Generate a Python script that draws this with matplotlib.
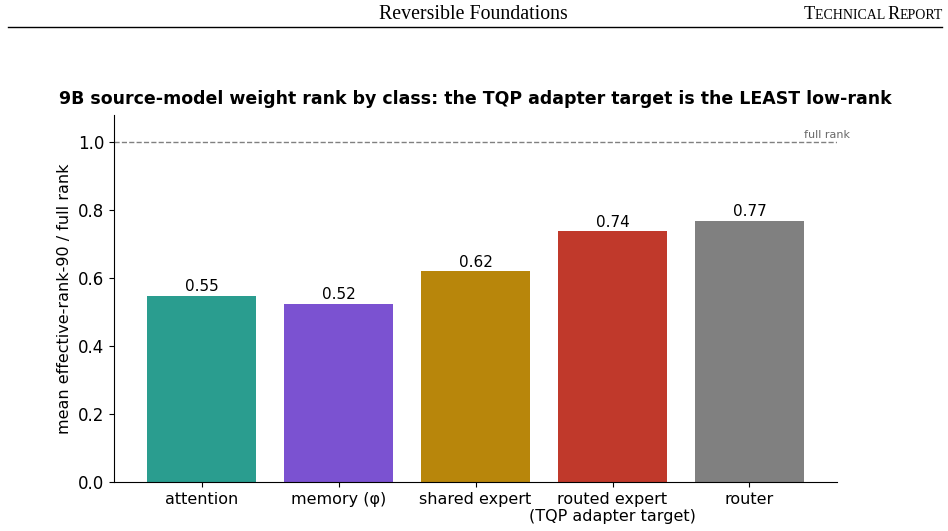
import matplotlib.pyplot as plt
from matplotlib.offsetbox import TextArea, HPacker, AnchoredOffsetbox

# Дані
categories = ['attention', 'memory (φ)', 'shared expert', 'routed expert\n(TQP adapter target)', 'router']
values = [0.547, 0.524, 0.62, 0.738, 0.768]
value_labels = ['0.55', '0.52', '0.62', '0.74', '0.77']
colors = ['#2a9d8f', '#7b52d1', '#b8860b', '#c0392b', '#808080']

fig = plt.figure(figsize=(9.48, 5.31), dpi=100)

# Шапка сторінки
fig.text(0.4995, 0.972, 'Reversible Foundations', ha='center', va='center',
         family='Liberation Serif', fontsize=14.3)
parts = [('T', 13.2), ('ECHNICAL ', 10), ('R', 13.2), ('EPORT', 10)]
boxes = [TextArea(s, textprops=dict(family='Liberation Serif', fontsize=fs)) for s, fs in parts]
pack = HPacker(children=boxes, align='baseline', pad=0, sep=0)
anchored = AnchoredOffsetbox(loc='center right', child=pack, frameon=False,
                             bbox_to_anchor=(0.995, 0.972), bbox_transform=fig.transFigure,
                             borderpad=0, pad=0)
fig.add_artist(anchored)
fig.add_artist(plt.Line2D([0.008, 0.994], [0.949, 0.949], color='black', lw=1.0,
                          transform=fig.transFigure))

ax = fig.add_axes([0.1203, 0.0923, 0.7627, 0.6911])
x = range(len(categories))
bars = ax.bar(x, values, width=0.8, color=colors)
for bar, lab in zip(bars, value_labels):
    ax.text(bar.get_x() + bar.get_width() / 2, bar.get_height() + 0.005, lab,
            ha='center', va='bottom', fontsize=11)

ax.axhline(1.0, color='gray', ls='--', lw=1.0)
ax.text(4.4, 1.005, 'full rank', color='dimgray', fontsize=8, ha='left', va='bottom')

ax.set_xticks(list(x))
ax.set_xticklabels(categories, fontsize=11.5)
ax.tick_params(axis='y', labelsize=12)
ax.set_xlim(-0.64, 4.64)
ax.set_ylim(0, 1.08)
ax.set_ylabel('mean effective-rank-90 / full rank', fontsize=11.5)
ax.set_title('9B source-model weight rank by class: the TQP adapter target is the LEAST low-rank',
             fontsize=12.5, fontweight='bold', pad=8)
ax.spines['top'].set_visible(False)
ax.spines['right'].set_visible(False)

fig.savefig('out.png', dpi=100)
